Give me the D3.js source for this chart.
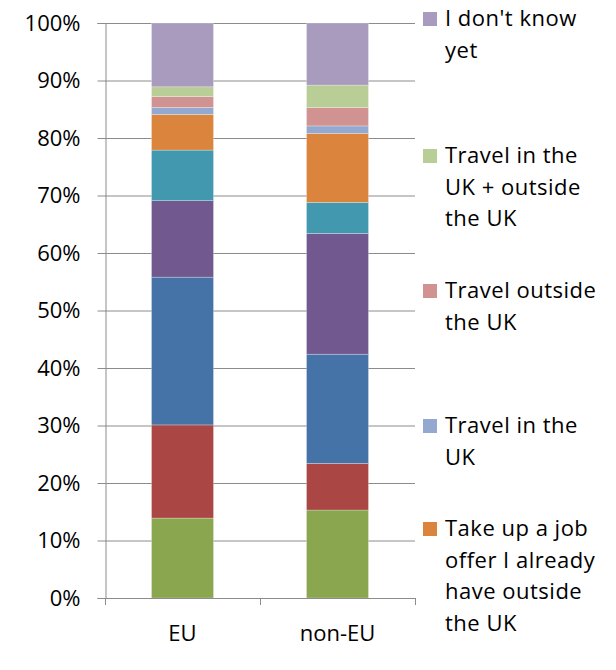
<!DOCTYPE html>
<html>
<head>
<meta charset="utf-8">
<script src="https://cdn.jsdelivr.net/npm/d3@7"></script>
<style>
  html, body { margin: 0; padding: 0; background: #fff; }
  svg { display: block; font-family: "Open Sans", sans-serif; }
</style>
</head>
<body>
<svg id="chart" width="616" height="670"></svg>
<script>
// ---- Data ----
const categories = ["EU", "non-EU"];
const seriesNames = [
  "Stay in the UK to work",
  "Stay in the UK to study",
  "Go home to work",
  "Go home",
  "Study outside the UK",
  "Take up a job offer I already have outside the UK",
  "Travel in the UK",
  "Travel outside the UK",
  "Travel in the UK + outside the UK",
  "I don't know yet"
];
const euValues    = [13.9, 16.2, 25.7, 13.3, 8.8, 6.2, 1.2, 1.9, 1.7, 11.1];
const nonEuValues = [15.3, 8.1, 19.0, 21.0, 5.4, 12.0, 1.3, 3.2, 3.9, 10.8];
const seriesColors = ["#8AA64F", "#AA4643", "#4572A7", "#71588F", "#4198AF",
                      "#DB843D", "#93A9CF", "#D19392", "#B9CD96", "#A99BBD"];
const yTicks = [0, 10, 20, 30, 40, 50, 60, 70, 80, 90, 100];
// Legend (visible part, as clipped in the reference): series index + wrapped lines
const legendSeries = [9, 8, 7, 6, 5];
const legendLines = [
  ["I don't know", "yet"],
  ["Travel in the", "UK + outside", "the UK"],
  ["Travel outside", "the UK"],
  ["Travel in the", "UK"],
  ["Take up a job", "offer I already", "have outside", "the UK"]
];

// ---- Layout ----
const svg = d3.select("#chart");
const plot = { left: 105, right: 415, top: 23, bottom: 598 };

const x = d3.scaleBand().domain(categories).range([plot.left, plot.right]).padding(0);
const y = d3.scaleLinear().domain([0, 100]).range([plot.bottom, plot.top]);

// gridlines
svg.append("g").selectAll("line").data(yTicks.filter(d => d > 0)).join("line")
  .attr("x1", plot.left).attr("x2", plot.right)
  .attr("y1", d => y(d) + 0.5).attr("y2", d => y(d) + 0.5)
  .attr("stroke", "#8c8c8c").attr("stroke-width", 1);

// stacked data
const rows = categories.map((c, i) => {
  const vals = i === 0 ? euValues : nonEuValues;
  const o = { cat: c };
  seriesNames.forEach((s, j) => o[s] = vals[j]);
  return o;
});
const stacked = d3.stack().keys(seriesNames)(rows);

const barW = x.bandwidth() * 0.4;
const barOff = (x.bandwidth() - barW) / 2;

svg.append("g").selectAll("g").data(stacked).join("g")
  .attr("fill", (d, i) => seriesColors[i])
  .selectAll("rect").data(d => d).join("rect")
  .attr("x", d => x(d.data.cat) + barOff)
  .attr("width", barW)
  .attr("y", d => y(d[1]))
  .attr("height", d => y(d[0]) - y(d[1]))
  .attr("stroke", "rgba(255,255,255,0.45)")
  .attr("stroke-width", 0.6);

// y axis
const yAxis = d3.axisLeft(y).tickValues(yTicks).tickFormat(d => d + "%").tickSize(8).tickPadding(17);
const gy = svg.append("g").attr("transform", `translate(${plot.left + 0.5},0)`).call(yAxis);
gy.select(".domain").attr("stroke", "#8c8c8c");
gy.selectAll(".tick line").attr("stroke", "#8c8c8c");
gy.selectAll(".tick text").attr("font-size", 22).attr("fill", "#000")
  .attr("font-family", "'Open Sans', sans-serif");

// x axis
const xTickPos = [plot.left, ...categories.map(c => x(c) + x.bandwidth())];
const gx = svg.append("g");
gx.append("line").attr("x1", plot.left).attr("x2", plot.right)
  .attr("y1", plot.bottom + 0.5).attr("y2", plot.bottom + 0.5)
  .attr("stroke", "#8c8c8c");
gx.selectAll("line.t").data(xTickPos).join("line").attr("class", "t")
  .attr("x1", d => d + 0.5).attr("x2", d => d + 0.5)
  .attr("y1", plot.bottom).attr("y2", plot.bottom + 7)
  .attr("stroke", "#8c8c8c");
gx.selectAll("text").data(categories).join("text")
  .attr("x", d => x(d) + x.bandwidth() / 2)
  .attr("y", 641)
  .attr("text-anchor", "middle")
  .attr("font-size", 22)
  .attr("fill", "#000")
  .text(d => d);

// legend
const legendTop = [26, 163, 298, 433, 536];
const lineH = 31.5;
const lg = svg.append("g");
legendSeries.forEach((si, k) => {
  const g = lg.append("g");
  g.append("rect").attr("x", 423).attr("y", legendTop[k] - 14)
    .attr("width", 14).attr("height", 14).attr("fill", seriesColors[si]);
  legendLines[k].forEach((t, li) => {
    g.append("text").attr("x", 445).attr("y", legendTop[k] + li * lineH)
      .attr("font-size", 22).attr("letter-spacing", 0.5)
      .attr("fill", "#000").text(t);
  });
});
</script>
</body>
</html>
